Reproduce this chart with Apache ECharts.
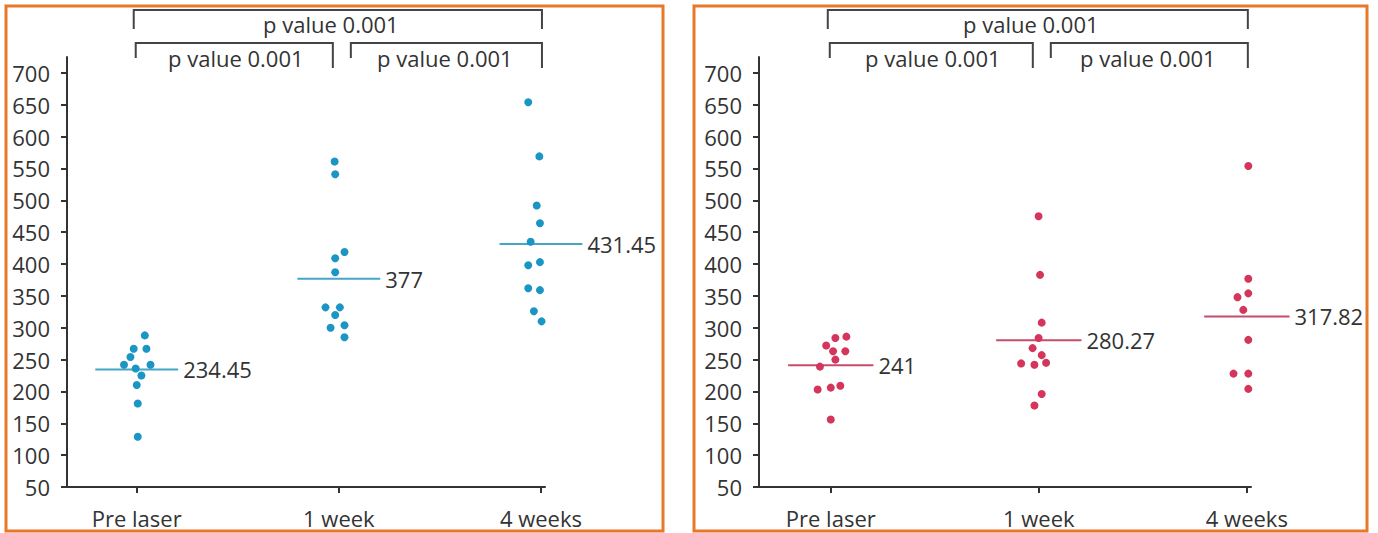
<!DOCTYPE html>
<html>
<head>
<meta charset="utf-8">
<script src="https://cdn.jsdelivr.net/npm/echarts@6.0.0/dist/echarts.min.js"></script>
<style>
html,body{margin:0;padding:0;background:#fff;}
#chart{width:1378px;height:533px;}
</style>
</head>
<body>
<div id="chart"></div>
<script>
// ---- data ----
const categories = ['Pre laser', '1 week', '4 weeks'];
const yTicks = [50, 100, 150, 200, 250, 300, 350, 400, 450, 500, 550, 600, 650, 700];
const pLabel = 'p value 0.001';

// left panel (blue)
const leftPre   = [288, 267, 267, 254, 242, 242, 236, 225, 210, 181, 129];
const left1w    = [561, 541, 419, 409, 387, 332, 332, 320, 300, 304, 285];
const left4w    = [654, 569, 492, 464, 435, 398, 403, 362, 359, 326, 310];
const leftMeans = [234.45, 377, 431.45];
// horizontal spread of the dots (category units)
const leftPreJit = [0.04, -0.015, 0.048, -0.031, -0.063, 0.068, -0.005, 0.023, 0, 0.005, 0.005];
const left1wJit  = [-0.021, -0.018, 0.028, -0.018, -0.018, -0.066, 0.005, -0.018, -0.041, 0.028, 0.028];
const left4wJit  = [-0.063, -0.008, -0.021, -0.005, -0.051, -0.063, -0.005, -0.063, -0.005, -0.035, 0.003];

// right panel (red)
const rightPre   = [286, 284, 272, 263, 263, 250, 239, 203, 206, 209, 156];
const right1w    = [475, 383, 308, 284, 268, 257, 244, 242, 245, 196, 178];
const right4w    = [554, 377, 354, 348, 334, 328, 281, 278, 228, 228, 204];
const rightMeans = [241, 280.27, 317.82];
const rightPreJit = [0.075, 0.022, -0.022, 0.011, 0.07, 0.022, -0.052, -0.063, 0, 0.046, 0];
const right1wJit  = [-0.001, 0.006, 0.014, -0.001, -0.03, 0.014, -0.085, -0.021, 0.035, 0.014, -0.021];
const right4wJit  = [0.007, 0.007, 0.007, -0.045, 0.051, -0.017, 0.007, 0.063, -0.064, 0.007, 0.007];

// ---- build ----
const FONT = 'Open Sans';
const TXT = '#333';
const AX = '#333';

function pts(groups, jits) {
  const out = [];
  groups.forEach((vals, g) => vals.forEach((v, i) => out.push([g + jits[g][i], v])));
  return out;
}
const leftPts = pts([leftPre, left1w, left4w], [leftPreJit, left1wJit, left4wJit]);
const rightPts = pts([rightPre, right1w, right4w], [rightPreJit, right1wJit, right4wJit]);

const grids = [
  {left: 67, width: 478, top: 57, height: 430},
  {left: 759, width: 492, top: 57, height: 430}
];

function xAxis(i) {
  return {
    type: 'value', gridIndex: i, min: -0.345, max: 2.02,
    splitLine: {show: false},
    axisLine: {show: true, onZero: false, lineStyle: {color: AX, width: 2}},
    axisTick: {show: true, customValues: [0, 1, 2], length: 6, lineStyle: {color: AX, width: 2}},
    axisLabel: {customValues: [0, 1, 2], formatter: v => categories[Math.round(v)],
      margin: 20, fontSize: 22, color: TXT, fontFamily: FONT}
  };
}
function yAxis(i) {
  return {
    type: 'value', gridIndex: i, min: 50, max: 725, interval: 50,
    splitLine: {show: false},
    axisLine: {show: true, onZero: false, lineStyle: {color: AX, width: 2}},
    axisTick: {show: true, customValues: yTicks, length: 6, lineStyle: {color: AX, width: 2}},
    axisLabel: {customValues: yTicks, margin: 17, fontSize: 22, color: TXT, fontFamily: FONT}
  };
}
function meanSeries(i, means, color) {
  return {
    type: 'custom', xAxisIndex: i, yAxisIndex: i, silent: true, z: 3,
    data: means.map((m, g) => [g, m]),
    renderItem: function (params, api) {
      const c = api.value(0), m = api.value(1);
      const p1 = api.coord([c - 0.205, m]);
      const p2 = api.coord([c + 0.205, m]);
      return {
        type: 'group',
        children: [
          {type: 'line', shape: {x1: p1[0], y1: p1[1], x2: p2[0], y2: p2[1]},
           style: {stroke: color, lineWidth: 2}},
          {type: 'text', x: p2[0] + 5, y: p2[1],
           style: {text: String(m), fill: TXT, fontSize: 22, fontFamily: FONT,
                   align: 'left', verticalAlign: 'middle'}}
        ]
      };
    }
  };
}

const chart = echarts.init(document.getElementById('chart'), null, {renderer: 'svg'});
chart.setOption({
  backgroundColor: '#fff',
  animation: false,
  grid: grids,
  xAxis: [xAxis(0), xAxis(1)],
  yAxis: [yAxis(0), yAxis(1)],
  series: [
    {type: 'scatter', xAxisIndex: 0, yAxisIndex: 0, data: leftPts, symbolSize: 8,
     itemStyle: {color: '#1a95c4', opacity: 1}, z: 4},
    {type: 'scatter', xAxisIndex: 1, yAxisIndex: 1, data: rightPts, symbolSize: 8,
     itemStyle: {color: '#d3355b', opacity: 1}, z: 4},
    meanSeries(0, leftMeans, '#45a6c6'),
    meanSeries(1, rightMeans, '#c74c6c')
  ]
});

// brackets and panel frames
function bracketGraphics(axisIdx) {
  const px = v => chart.convertToPixel({xAxisIndex: axisIdx}, v);
  const c0 = px(0), c1 = px(1), c2 = px(2);
  const line = {stroke: '#444', lineWidth: 2, fill: 'none'};
  const txt = (x, y) => ({type: 'text', x: x, y: y,
    style: {text: pLabel, fill: TXT, fontSize: 22, fontFamily: FONT, align: 'center', verticalAlign: 'middle'}});
  return [
    {type: 'polyline', shape: {points: [[c0 - 3, 29], [c0 - 3, 10], [c2 + 1, 10], [c2 + 1, 29]]}, style: line},
    txt((c0 + c2) / 2 - 8, 24),
    {type: 'polyline', shape: {points: [[c0 - 1, 58], [c0 - 1, 43], [c1 - 6, 43], [c1 - 6, 68]]}, style: line},
    txt((c0 + c1) / 2 - 2, 58),
    {type: 'polyline', shape: {points: [[c1 + 12, 58], [c1 + 12, 43], [c2 + 1, 43], [c2 + 1, 68]]}, style: line},
    txt((c1 + c2) / 2 + 5, 58)
  ];
}
const frames = [
  {type: 'rect', shape: {x: 6, y: 6, width: 657, height: 525}, style: {fill: 'none', stroke: '#e8782a', lineWidth: 3}},
  {type: 'rect', shape: {x: 694, y: 6, width: 673, height: 525}, style: {fill: 'none', stroke: '#e8782a', lineWidth: 3}}
];
chart.setOption({graphic: frames.concat(bracketGraphics(0), bracketGraphics(1))});
</script>
</body>
</html>
